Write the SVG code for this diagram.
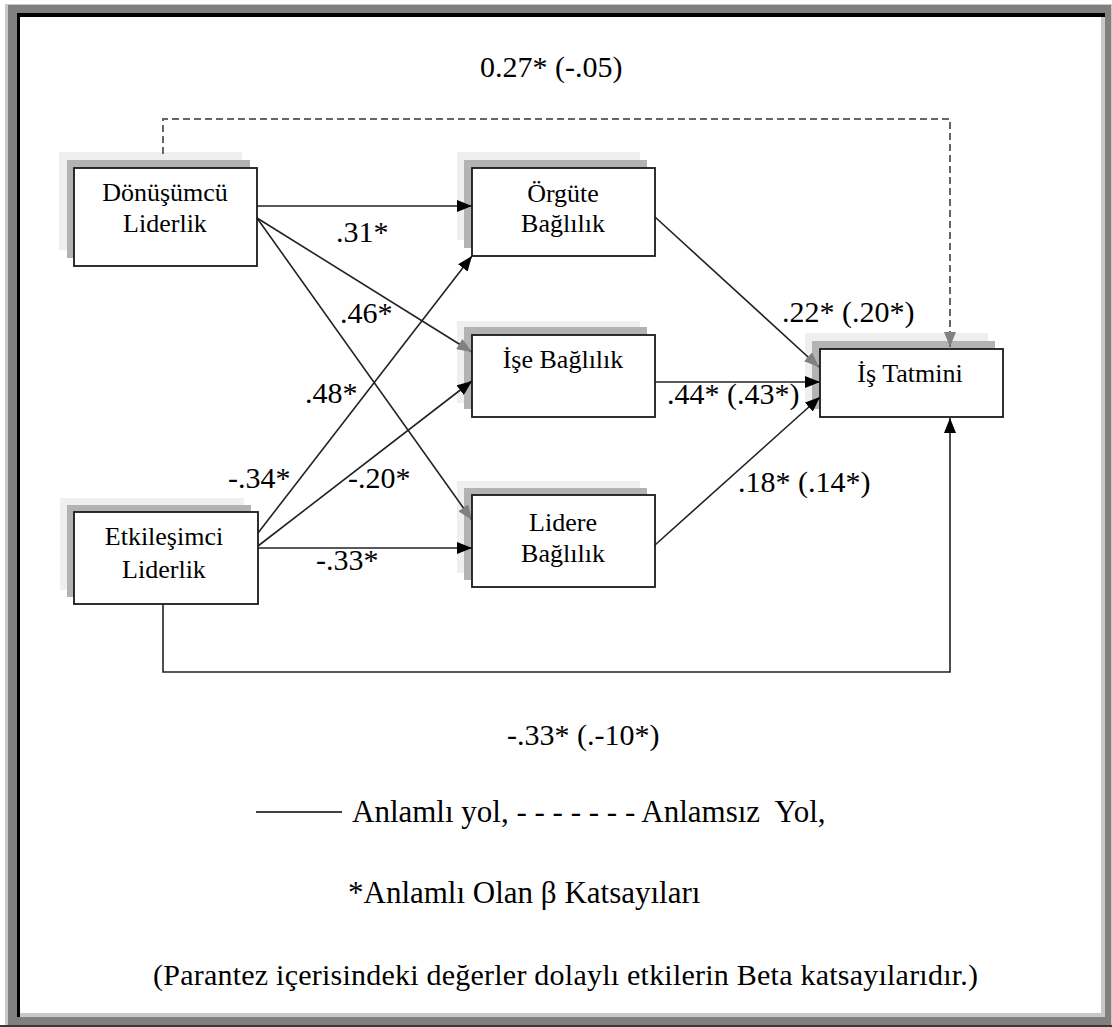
<svg xmlns="http://www.w3.org/2000/svg" width="1112" height="1027" viewBox="0 0 1112 1027">
  <style>
    .box { fill: #ffffff; stroke: #1a1a1a; stroke-width: 1.8; }
    .sh1 { fill: #efefef; }
    .sh2 { fill: #b3b3b3; }
    .nl { font-family: 'Liberation Serif', 'DejaVu Serif', serif; font-size: 26px; fill: #000; text-anchor: middle; }
    .el { font-family: 'Liberation Serif', 'DejaVu Serif', serif; font-size: 30px; fill: #000; }
    .lg { font-family: 'Liberation Serif', 'DejaVu Serif', serif; font-size: 31px; fill: #000; white-space: pre; }
    .ln { fill: none; stroke: #222; stroke-width: 1.6; }
    .dash { fill: none; stroke: #666; stroke-width: 2; stroke-dasharray: 7 4; }
  </style>
  <defs>
    <marker id="ah" markerUnits="userSpaceOnUse" markerWidth="16" markerHeight="12" refX="15" refY="6" orient="auto">
      <path d="M0,0 L15,6 L0,12 z" fill="#000"/>
    </marker>
    <marker id="ahg" markerUnits="userSpaceOnUse" markerWidth="16" markerHeight="12" refX="15" refY="6" orient="auto">
      <path d="M0,0 L15,6 L0,12 z" fill="#808080"/>
    </marker>
  </defs>

  <!-- frame -->
  <g id="frame">
    <rect x="0" y="0" width="1112" height="1027" fill="#ffffff"/>
    <rect x="5" y="4" width="1107" height="1023" fill="#c8c8c8"/>
    <rect x="8" y="5" width="1103" height="1021" fill="#808080"/>
    <rect x="17" y="13" width="1088" height="1004" fill="#000000"/>
    <rect x="20" y="17" width="1085" height="1000" fill="#c8c8c8"/>
    <rect x="20" y="17" width="1081" height="996" fill="#ffffff"/>
    <rect x="0" y="1025" width="1112" height="2" fill="#3a3a3a"/>
  </g>

  <!-- shadows -->
  <g id="shadows">
    <rect class="sh1" x="59" y="152" width="183" height="98"/>
    <rect class="sh2" x="67" y="160" width="183" height="98"/>
    <rect class="sh1" x="457" y="152" width="183" height="88"/>
    <rect class="sh2" x="464" y="160" width="183" height="88"/>
    <rect class="sh1" x="457" y="321" width="183" height="82"/>
    <rect class="sh2" x="464" y="327" width="183" height="82"/>
    <rect class="sh1" x="60" y="498" width="184" height="92"/>
    <rect class="sh2" x="67" y="505" width="184" height="92"/>
    <rect class="sh1" x="457" y="481" width="183" height="92"/>
    <rect class="sh2" x="464" y="488" width="183" height="92"/>
    <rect class="sh1" x="805" y="333" width="183" height="68"/>
    <rect class="sh2" x="812" y="341" width="183" height="68"/>
  </g>

  <!-- connectors -->
  <g id="connectors">
    <path class="dash" d="M163,154 V119 H950 V347" marker-end="url(#ahg)"/>
    <line class="ln" x1="257" y1="206" x2="472" y2="206" marker-end="url(#ah)"/>
    <line class="ln" x1="257" y1="218" x2="472" y2="352" marker-end="url(#ahg)"/>
    <line class="ln" x1="257" y1="218" x2="472" y2="520" marker-end="url(#ahg)"/>
    <line class="ln" x1="258" y1="533" x2="472" y2="256" marker-end="url(#ah)"/>
    <line class="ln" x1="258" y1="546" x2="472" y2="381" marker-end="url(#ah)"/>
    <line class="ln" x1="258" y1="548" x2="472" y2="548" marker-end="url(#ah)"/>
    <line class="ln" x1="655" y1="217" x2="819" y2="367" marker-end="url(#ahg)"/>
    <line class="ln" x1="655" y1="382" x2="820" y2="382" marker-end="url(#ah)"/>
    <line class="ln" x1="655" y1="545" x2="820" y2="397" marker-end="url(#ah)"/>
    <path class="ln" d="M163,604 V672 H950 V418" stroke="#444" marker-end="url(#ah)"/>
  </g>

  <!-- nodes -->
  <g id="donusumcu">
    <rect class="box" x="74" y="168" width="183" height="98"/>
    <text class="nl" x="165" y="201">Dönüşümcü</text>
    <text class="nl" x="165" y="232">Liderlik</text>
  </g>
  <g id="orgute">
    <rect class="box" x="472" y="168" width="183" height="88"/>
    <text class="nl" x="563" y="202">Örgüte</text>
    <text class="nl" x="563" y="232">Bağlılık</text>
  </g>
  <g id="ise">
    <rect class="box" x="472" y="335" width="183" height="82"/>
    <text class="nl" x="563" y="368">İşe Bağlılık</text>
  </g>
  <g id="etkilesimci">
    <rect class="box" x="74" y="512" width="184" height="92"/>
    <text class="nl" x="164" y="545">Etkileşimci</text>
    <text class="nl" x="164" y="578">Liderlik</text>
  </g>
  <g id="lidere">
    <rect class="box" x="472" y="495" width="183" height="92"/>
    <text class="nl" x="563" y="531">Lidere</text>
    <text class="nl" x="563" y="562">Bağlılık</text>
  </g>
  <g id="istatmini">
    <rect class="box" x="820" y="349" width="183" height="68"/>
    <text class="nl" x="910" y="382">İş Tatmini</text>
  </g>

  <!-- path coefficients -->
  <g id="labels">
    <text class="el" x="480" y="77">0.27* (-.05)</text>
    <text class="el" x="336" y="242">.31*</text>
    <text class="el" x="340" y="323">.46*</text>
    <text class="el" x="305" y="403">.48*</text>
    <text class="el" x="228" y="488">-.34*</text>
    <text class="el" x="348" y="488">-.20*</text>
    <text class="el" x="316" y="570">-.33*</text>
    <text class="el" x="782" y="322">.22* (.20*)</text>
    <text class="el" x="667" y="404">.44* (.43*)</text>
    <text class="el" x="738" y="492">.18* (.14*)</text>
    <text class="el" x="507" y="745">-.33* (.-10*)</text>
  </g>

  <!-- legend -->
  <g id="legend">
    <line x1="256" y1="812" x2="342" y2="812" stroke="#000" stroke-width="1.6"/>
    <text class="lg" x="352" y="822" xml:space="preserve">Anlamlı yol, - - - - - - - Anlamsız  Yol,</text>
    <text class="lg" x="348" y="903">*Anlamlı Olan β Katsayıları</text>
    <text class="el" x="153" y="985" textLength="825" lengthAdjust="spacing">(Parantez içerisindeki değerler dolaylı etkilerin Beta katsayılarıdır.)</text>
  </g>
</svg>
